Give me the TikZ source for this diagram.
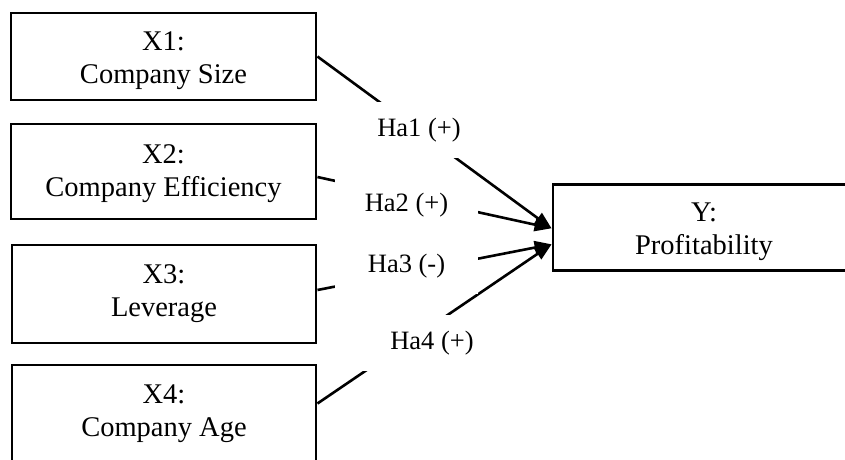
\documentclass[tikz,border=0pt]{standalone}
\usepackage{fontspec}
\setmainfont{Liberation Serif}
\usetikzlibrary{arrows.meta}
\begin{document}
\begin{tikzpicture}[x=1pt,y=-1pt,
  varbox/.style={draw=black, line width=2.9pt, fill=white, inner sep=0pt},
  vtext/.style={inner sep=0pt, align=center, font=\fontsize{28.5}{33}\selectfont},
  conn/.style={line width=2.6pt, -{Triangle[length=17pt,width=13pt]}},
  lab/.style={fill=white, inner sep=0pt, minimum width=143pt, minimum height=56pt,
    font=\fontsize{26.5}{32}\selectfont}]
\useasboundingbox (0,0) rectangle (845,459);
\clip (0,0) rectangle (845,459);
\node[varbox, minimum width=305pt, minimum height=87pt] (x1) at (163.5,56.5) {};
\node[varbox, minimum width=305pt, minimum height=95pt] (x2) at (163.5,171.5) {};
\node[varbox, minimum width=304pt, minimum height=98pt] (x3) at (164,294) {};
\node[varbox, minimum width=304pt, minimum height=97pt] (x4) at (164,413.5) {};
\node[varbox, minimum width=302pt, minimum height=86pt] (y) at (704,227.3) {};
\node[vtext] (x1t) at ([yshift=-4pt]x1.center) {X1:\\Company Size};
\node[vtext] (x2t) at ([yshift=-2pt]x2.center) {X2:\\Company Efficiency};
\node[vtext] (x3t) at ([yshift=0pt]x3.center) {X3:\\Leverage};
\node[vtext] (x4t) at ([yshift=0pt]x4.center) {X4:\\Company Age};
\node[vtext] (yt) at ([yshift=-4.5pt]y.center) {Y:\\Profitability};
\draw[conn] (x1.east) -- ([yshift=-1pt]y.west);
\draw[conn] ([yshift=-5.5pt]x2.east) -- ([yshift=-1pt]y.west);
\draw[conn] ([yshift=4pt]x3.east) -- ([yshift=-17pt]y.west);
\draw[conn] ([yshift=10pt]x4.east) -- ([yshift=-17pt]y.west);
\node[lab] (h1) at (419,130) {Ha1 (+)};
\node[lab] (h2) at (406.5,205) {Ha2 (+)};
\node[lab] (h3) at (406.5,266) {Ha3 (-)};
\node[lab] (h4) at (432,343) {Ha4 (+)};
\end{tikzpicture}
\end{document}
